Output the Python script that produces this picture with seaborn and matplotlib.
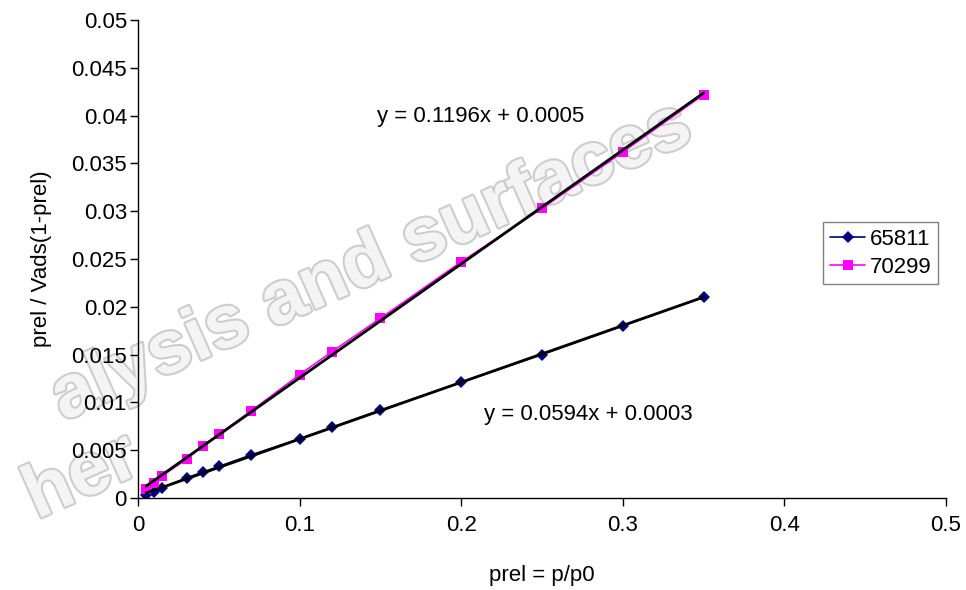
import numpy as np
import pandas as pd
import seaborn as sns
import matplotlib.pyplot as plt
import matplotlib.patheffects as pe
from matplotlib.lines import Line2D

# relative pressure points (same for both samples)
prel = [0.005, 0.01, 0.015, 0.03, 0.04, 0.05, 0.07, 0.10, 0.12, 0.15, 0.20, 0.25, 0.30, 0.35]

# BET transform prel / Vads(1-prel)
bet_65811 = [0.00028, 0.00063, 0.00108, 0.0021, 0.0027, 0.0033, 0.0045,
             0.0062, 0.0074, 0.0092, 0.0121, 0.0150, 0.0180, 0.0210]
bet_70299 = [0.00097, 0.00154, 0.00233, 0.00405, 0.00544, 0.00666, 0.0091,
             0.0129, 0.0153, 0.0188, 0.0247, 0.0303, 0.0362, 0.0422]

sample_names = ["65811", "70299"]
fit_labels = ["y = 0.0594x + 0.0003", "y = 0.1196x + 0.0005"]

sns.set_style("white")
plt.rcParams['font.family'] = ['Liberation Sans', 'DejaVu Sans']
plt.rcParams['text.color'] = 'black'
plt.rcParams['axes.labelcolor'] = 'black'

fig = plt.figure(figsize=(9.66, 5.9), dpi=100)
ax = fig.add_axes([0.1429, 0.156, 0.8364, 0.810])

# watermark in the background
wm_effects = [pe.withStroke(linewidth=3, foreground='#cdcdcd')]
fig.text(0.385, 0.555, "alysis and surfaces", rotation=24, fontsize=54,
         fontweight='bold', color='#f4f4f4', ha='center', va='center',
         rotation_mode='anchor', path_effects=wm_effects, zorder=0)
fig.text(0.085, 0.19, "her", rotation=24, fontsize=54,
         fontweight='bold', color='#f4f4f4', ha='center', va='center',
         rotation_mode='anchor', path_effects=wm_effects, zorder=0)
ax.set_facecolor('none')
ax.set_zorder(2)

df = pd.DataFrame({"prel": prel, sample_names[0]: bet_65811, sample_names[1]: bet_70299})

sns.lineplot(data=df, x="prel", y=sample_names[0], ax=ax, color='#000080', marker='D',
             markersize=6, markeredgewidth=0, linewidth=1.2)
sns.lineplot(data=df, x="prel", y=sample_names[1], ax=ax, color='#ff00ff', marker='s',
             markersize=7.5, markeredgewidth=0, linewidth=1.2)

# linear trendlines
for col in sample_names:
    sns.regplot(data=df, x="prel", y=col, ax=ax, scatter=False, ci=None,
                color='black', line_kws={'linewidth': 2})

ax.text(0.148, 0.0399, fit_labels[1], fontsize=16, va='center', ha='left')
ax.text(0.214, 0.00868, fit_labels[0], fontsize=16, va='center', ha='left')

ax.set_xlim(0, 0.5)
ax.set_ylim(0, 0.05)
ax.set_xticks(np.arange(0, 0.51, 0.1))
ax.set_yticks(np.arange(0, 0.0501, 0.005))
ax.set_xticklabels(["0", "0.1", "0.2", "0.3", "0.4", "0.5"])
ax.set_yticklabels(["0", "0.005", "0.01", "0.015", "0.02", "0.025", "0.03",
                    "0.035", "0.04", "0.045", "0.05"])
ax.tick_params(axis='both', direction='out', length=6, width=1, colors='black',
               labelsize=16)
ax.tick_params(axis='x', pad=6, bottom=True)
ax.tick_params(axis='y', pad=2, left=True)

for s in ['top', 'right']:
    ax.spines[s].set_visible(False)
for s in ['left', 'bottom']:
    ax.spines[s].set_color('black')
    ax.spines[s].set_linewidth(1)

ax.set_xlabel("prel = p/p0", fontsize=16)
ax.set_ylabel("prel / Vads(1-prel)", fontsize=16)
ax.xaxis.set_label_coords(0.5, -0.14)
ax.yaxis.set_label_coords(-0.107, 0.5)

handles = [Line2D([], [], color='#000080', marker='D', markersize=6, markeredgewidth=0, lw=1.2),
           Line2D([], [], color='#ff00ff', marker='s', markersize=7.5, markeredgewidth=0, lw=1.2)]
leg = ax.legend(handles, sample_names, loc='upper left', bbox_to_anchor=(0.848, 0.577),
                fontsize=16, frameon=True, fancybox=False, framealpha=1,
                handlelength=1.6, handletextpad=0.2, borderpad=0.3, labelspacing=0.3,
                borderaxespad=0)
leg.get_frame().set_edgecolor('#808080')
leg.get_frame().set_linewidth(1)

fig.savefig("out.png", dpi=100)
